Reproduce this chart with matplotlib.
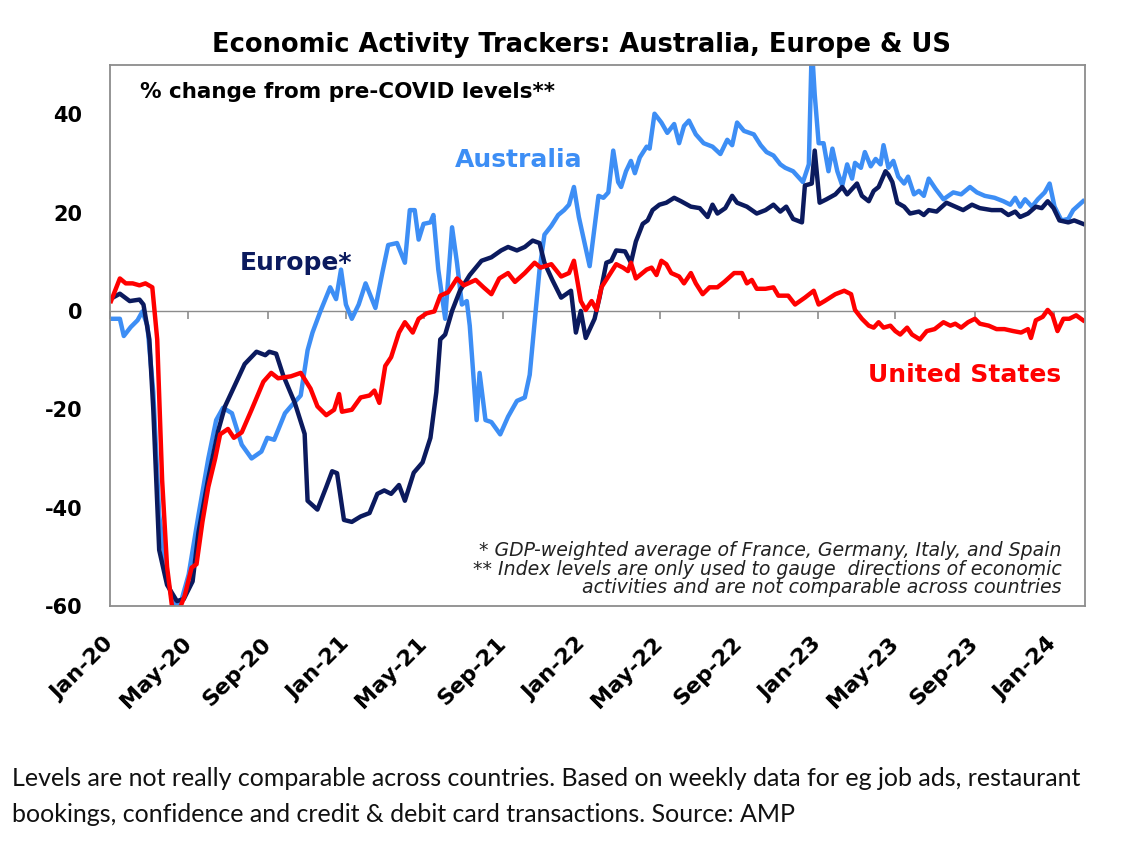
import matplotlib
matplotlib.use("Agg")
import matplotlib.pyplot as plt
import matplotlib.dates as mdates
from matplotlib.ticker import NullFormatter
import numpy as np
import pandas as pd

# Czas w miesiącach od 1 stycznia 2020, wartości w %
au_t = [0.05, 0.5, 0.7, 1.05, 1.4, 1.65, 1.9, 2.2, 2.5, 2.9, 3.25, 3.6, 4.0, 4.5, 5.0, 5.4, 5.75,
        6.2, 6.7, 7.2, 7.7, 8.0, 8.35, 8.9, 9.2, 9.7, 10.05, 10.3, 10.7, 11.2, 11.5, 11.75, 12.0,
        12.3, 12.65, 13.0, 13.5, 13.85, 14.15, 14.6, 15.0, 15.25, 15.5, 15.7, 15.95, 16.3, 16.45,
        16.7, 17.05, 17.4, 17.65, 17.9, 18.15, 18.3, 18.65, 18.8, 19.1, 19.4, 19.85, 20.25, 20.7,
        21.1, 21.35, 21.6, 21.85, 22.1, 22.45, 22.8, 23.1, 23.35, 23.6, 23.85, 24.2, 24.4, 24.85,
        25.1, 25.35, 25.6, 25.85, 26.0, 26.25, 26.5, 26.7, 26.95, 27.3, 27.45, 27.7, 28.05, 28.35,
        28.7, 28.95, 29.2, 29.45, 29.8, 30.2, 30.65, 31.05, 31.4, 31.65, 31.9, 32.25, 32.75, 33.1,
        33.4, 33.75, 34.1, 34.35, 34.75, 35.25, 35.55, 35.7, 35.85, 36.05, 36.3, 36.55, 36.75,
        37.0, 37.25, 37.5, 37.75, 37.9, 38.2, 38.4, 38.7, 38.95, 39.2, 39.35, 39.6, 39.85, 40.1,
        40.4, 40.6, 40.9, 41.15, 41.4, 41.65, 42.0, 42.4, 42.9, 43.3, 43.75, 44.1, 44.5, 45.0,
        45.45, 45.8, 46.05, 46.3, 46.55, 46.9, 47.2, 47.55, 47.8, 48.05, 48.4, 48.75, 49.0, 49.5]
au_v = [-1.6, -1.6, -5.1, -3.3, -1.9, -0.1, -3, -16.5, -41.5, -54.3, -60, -59.3, -53.6, -41.5,
        -30, -22.2, -19.7, -20.8, -27.2, -30, -28.6, -25.8, -26.2, -20.8, -19.4, -17.2, -8, -4.4,
        -0.1, 4.8, 2.4, 8.4, 1.3, -1.6, 1.3, 5.6, 0.6, 7.7, 13.4, 13.8, 9.8, 20.5, 20.5, 14.5,
        17.7, 18, 19.5, 8.4, -1.6, 17, 9.8, 1.3, 2, -3, -22.2, -12.6, -22.2, -22.6, -25.1, -21.5,
        -18.3, -17.6, -13, -2.3, 8.4, 15.5, 17.3, 19.5, 20.5, 21.6, 25.2, 19.1, 12.7, 9.1, 23.4,
        23, 24.1, 32.6, 26.2, 25.2, 28.4, 30.5, 28, 31.2, 33.4, 33, 40.1, 38.3, 36.2, 38, 34.1,
        37.6, 38.7, 35.9, 34.1, 33.4, 31.9, 34.8, 33.7, 38.3, 36.6, 35.9, 33.7, 32.3, 31.6, 29.8,
        29.1, 28.4, 26.2, 29.8, 54, 44, 34.1, 34.1, 28.4, 33, 28.4, 25.5, 29.8, 26.9, 30.1, 29.1,
        32.3, 29.4, 30.9, 29.8, 33.7, 29.1, 30.5, 27.3, 25.9, 27.3, 23.7, 24.4, 23.4, 26.9, 24.8,
        22.7, 24.1, 23.7, 25.2, 24.1, 23.4, 23, 22.3, 21.6, 23, 21.2, 22.7, 21.2, 22.7, 24.1,
        25.9, 21.2, 18.4, 18.7, 20.5, 22.3]

eu_t = [0.05, 0.5, 1.0, 1.5, 1.7, 2.0, 2.2, 2.5, 2.9, 3.4, 3.75, 4.2, 4.5, 5.0, 5.5, 5.85, 6.35,
        6.85, 7.45, 7.9, 8.1, 8.45, 8.8, 9.4, 9.9, 10.05, 10.55, 11.0, 11.3, 11.55, 11.9, 12.3,
        12.75, 13.2, 13.6, 13.95, 14.3, 14.7, 15.0, 15.45, 15.9, 16.3, 16.6, 16.8, 17.05, 17.4,
        17.8, 18.3, 18.9, 19.4, 19.9, 20.25, 20.7, 21.1, 21.5, 21.85, 22.1, 22.5, 22.95, 23.45,
        23.7, 23.95, 24.2, 24.65, 24.9, 25.25, 25.5, 25.75, 26.2, 26.5, 26.75, 27.1, 27.35, 27.6,
        27.95, 28.3, 28.7, 29.05, 29.55, 30.0, 30.4, 30.65, 30.9, 31.3, 31.65, 31.9, 32.4, 32.9,
        33.35, 33.75, 34.1, 34.4, 34.75, 35.2, 35.35, 35.7, 35.85, 36.1, 36.45, 36.9, 37.25, 37.5,
        37.75, 38.0, 38.25, 38.6, 38.85, 39.1, 39.45, 39.6, 39.8, 40.05, 40.4, 40.7, 41.15, 41.4,
        41.65, 42.05, 42.55, 43.0, 43.4, 43.85, 44.25, 44.85, 45.35, 45.7, 46.05, 46.3, 46.7,
        47.1, 47.4, 47.7, 48.0, 48.3, 48.75, 49.05, 49.5]
eu_v = [2.5, 3.5, 2.0, 2.3, 1.3, -5.8, -20, -48.6, -55.7, -59, -58.6, -55, -45, -34, -24.4,
        -19.4, -15.1, -10.8, -8.3, -9.0, -8.3, -8.7, -13, -18.7, -25, -38.6, -40.4, -35.8, -32.6,
        -33, -42.5, -42.9, -41.8, -41.1, -37.2, -36.5, -37.2, -35.4, -38.6, -32.9, -30.8, -25.8,
        -16.5, -5.8, -4.8, 0, 4.1, 7.3, 10.2, 10.9, 12.3, 13, 12.3, 13, 14.3, 13.8, 9.8, 6.3, 2.7,
        4.1, -4.4, 0, -5.5, -1.6, 2.7, 9.8, 10.2, 12.3, 12.1, 9.8, 14.1, 17.7, 18.4, 20.5, 21.6,
        22, 23, 22.3, 21.2, 20.9, 19.1, 21.6, 19.8, 20.9, 23.4, 22, 21.2, 19.8, 20.5, 21.6, 20.2,
        21.2, 18.7, 18, 25.5, 25.9, 32.6, 22, 22.7, 23.7, 25.2, 23.7, 24.8, 25.9, 23.4, 22.3, 24.4,
        25.2, 28.4, 27.7, 26.2, 22, 21.2, 19.8, 20.2, 19.5, 20.5, 20.2, 22, 21.2, 20.5, 21.6, 20.9,
        20.5, 20.5, 19.5, 20.2, 19.1, 19.8, 21.2, 20.9, 22.3, 20.9, 18.4, 18, 18.4, 17.7]

us_t = [0.05, 0.5, 0.8, 1.15, 1.5, 1.8, 2.15, 2.4, 2.65, 2.9, 3.15, 3.5, 3.8, 4.15, 4.4, 4.7, 5.0,
        5.35, 5.6, 6.0, 6.3, 6.7, 7.2, 7.8, 8.2, 8.55, 9.2, 9.7, 10.2, 10.55, 11.0, 11.4, 11.65,
        11.8, 12.3, 12.75, 13.2, 13.45, 13.7, 14.0, 14.3, 14.7, 15.0, 15.4, 15.7, 16.1, 16.5,
        16.8, 17.2, 17.65, 18.0, 18.6, 19.0, 19.4, 19.8, 20.25, 20.6, 21.1, 21.6, 21.9, 22.45,
        22.95, 23.35, 23.6, 23.95, 24.2, 24.5, 24.75, 25.0, 25.35, 25.75, 26.1, 26.35, 26.5,
        26.75, 27.3, 27.55, 27.8, 28.05, 28.3, 28.55, 28.95, 29.2, 29.55, 29.8, 30.15, 30.5, 30.9,
        31.25, 31.75, 32.15, 32.4, 32.65, 32.9, 33.35, 33.75, 34.0, 34.5, 34.85, 35.35, 35.8,
        36.05, 36.35, 36.9, 37.35, 37.7, 37.9, 38.25, 38.6, 38.85, 39.1, 39.35, 39.7, 39.95, 40.2,
        40.55, 40.8, 41.2, 41.55, 41.95, 42.4, 42.75, 43.0, 43.3, 43.65, 44.0, 44.25, 44.7, 45.1,
        45.5, 45.95, 46.35, 46.7, 46.85, 47.1, 47.45, 47.7, 47.95, 48.2, 48.5, 48.8, 49.15, 49.5]
us_v = [2, 6.6, 5.6, 5.6, 5.2, 5.6, 4.8, -5.8, -34.4, -52, -60, -61, -57.9, -52.2, -51.5, -42.9,
        -35.8, -30, -25.1, -24, -25.8, -24.7, -20.1, -14.4, -12.6, -13.7, -13.3, -12.6, -15.8,
        -19.4, -21.2, -20.1, -16.9, -20.5, -20.1, -17.6, -17.2, -16.2, -18.7, -11.2, -9.4, -4.4,
        -2.3, -4.4, -1.6, -0.5, -0.1, 3.1, 3.8, 6.6, 5.2, 6.3, 4.8, 3.4, 6.6, 7.7, 5.9, 7.7, 9.8,
        8.8, 9.5, 7, 7.7, 10.2, 2, 0.2, 2, 0.2, 4.8, 7, 9.5, 8.8, 8.1, 9.8, 6.6, 8.4, 8.8, 7.3,
        10.2, 9.5, 7.7, 7, 5.6, 7.7, 5.6, 3.4, 4.8, 4.8, 5.9, 7.7, 7.7, 5.6, 6.3, 4.5, 4.5, 4.8,
        3.1, 3.1, 1.3, 2.7, 4.1, 1.3, 2, 3.4, 4.1, 3.4, 0.2, -1.6, -3, -3.4, -2.3, -3.4, -3, -4.1,
        -4.8, -3.4, -4.8, -5.8, -4.1, -3.7, -2.3, -3, -2.6, -3.4, -2.3, -1.6, -2.6, -3, -3.7,
        -3.7, -4.1, -4.4, -3.7, -5.5, -1.9, -1.2, 0.2, -0.9, -4.1, -1.6, -1.6, -0.9, -1.9]

y_ticks = [40, 20, 0, -20, -40, -60]

START = pd.Timestamp("2020-01-01")


def to_dates(months):
    """Zamienia miesiące od stycznia 2020 na daty"""
    return START + pd.to_timedelta(np.array(months) * 30.4375, unit="D")


col_au = "#3d8ef5"
col_eu = "#0b1a5e"
col_us = "#ff0000"
frame = "#8c8c8c"
bold = dict(fontweight="bold", family="DejaVu Sans")

fig = plt.figure(figsize=(11.24, 8.51), dpi=100)
ax = fig.add_axes([0.0979, 0.2879, 0.8674, 0.6357])

ax.plot(to_dates(au_t), au_v, color=col_au, linewidth=3.2, solid_joinstyle="round")
ax.plot(to_dates(eu_t), eu_v, color=col_eu, linewidth=3.2, solid_joinstyle="round")
ax.plot(to_dates(us_t), us_v, color=col_us, linewidth=3.2, solid_joinstyle="round")

ax.set_ylim(-60, 50)
ax.set_xlim(START, START + pd.Timedelta(days=49.6 * 30.4375))
ax.set_yticks(y_ticks)
ax.set_yticklabels([str(v) for v in y_ticks], fontsize=15, **bold)
ax.tick_params(axis="y", length=0, pad=20)

tick_dates = pd.date_range("2020-01-01", "2024-01-01", freq="4MS")
ax.set_xticks(tick_dates)
ax.xaxis.set_major_formatter(mdates.DateFormatter("%b-%y"))
ax.tick_params(axis="x", length=0, pad=25)
for lab in ax.get_xticklabels():
    lab.set_rotation(45)
    lab.set_ha("right")
    lab.set_va("center")
    lab.set_rotation_mode("anchor")
    lab.set_fontsize(16)
    lab.set_fontweight("bold")
    lab.set_family("DejaVu Sans")

for sp in ax.spines.values():
    sp.set_color(frame)
    sp.set_linewidth(1.3)

# oś zerowa z kreskami jak w Excelu
zero = ax.secondary_xaxis(60 / 110)
zero.set_alignment("bottom")
zero.set_xticks(tick_dates)
zero.xaxis.set_major_formatter(NullFormatter())
zero.tick_params(axis="x", direction="out", length=6, width=1.2, color=frame,
                 labelbottom=False, labeltop=False)
zero.spines["bottom"].set_color(frame)
zero.spines["bottom"].set_linewidth(1)

ax.text(0.031, 0.950, "% change from pre-COVID levels**", transform=ax.transAxes,
        fontsize=15.5, va="center", **bold)
ax.text(0.354, 0.824, "Australia", transform=ax.transAxes, color=col_au,
        fontsize=18, va="center", **bold)
ax.text(0.133, 0.634, "Europe*", transform=ax.transAxes, color=col_eu,
        fontsize=18, va="center", **bold)
ax.text(0.777, 0.427, "United States", transform=ax.transAxes, color=col_us,
        fontsize=18, va="center", **bold)

notes = ["* GDP-weighted average of France, Germany, Italy, and Spain",
         "** Index levels are only used to gauge  directions of economic",
         "activities and are not comparable across countries"]
for i, line in enumerate(notes):
    ax.text(0.976, 0.102 - i * 0.034, line, transform=ax.transAxes, ha="right",
            va="center", fontsize=13.6, style="italic", family="DejaVu Sans",
            color="#222222")

fig.text(0.517, 0.947, "Economic Activity Trackers: Australia, Europe & US",
         ha="center", va="center", fontsize=18.5, **bold)

fig.text(0.011, 0.099,
         "Levels are not really comparable across countries. Based on weekly data for eg job ads, restaurant\n"
         "bookings, confidence and credit & debit card transactions. Source: AMP",
         ha="left", va="top", fontsize=18, family="Lato", color="#111111",
         linespacing=1.72)

fig.savefig("out.png", dpi=100)
